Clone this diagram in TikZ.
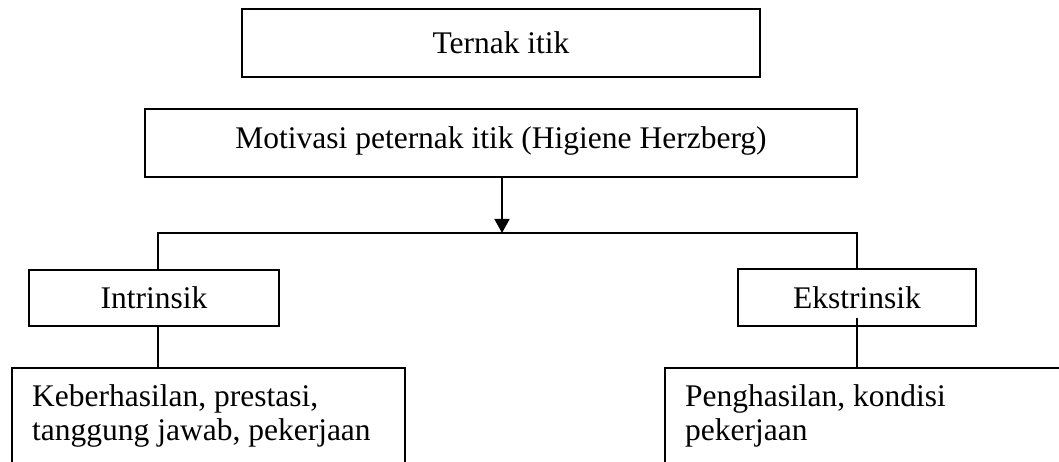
\documentclass[tikz,border=0pt]{standalone}
\usepackage{fontspec}
\setmainfont{Liberation Serif}
\usetikzlibrary{arrows.meta}
\begin{document}
\begin{tikzpicture}[x=1pt,y=-1pt,
  every node/.style={font=\fontsize{31.5}{34}\selectfont},
  box/.style={draw, line width=1.6pt, inner sep=0pt, text height=21.5pt, text depth=0pt},
  openbox/.style={draw, line width=1.6pt, inner sep=0pt, anchor=north west, minimum height=200pt},
  bodytext/.style={anchor=north west, inner sep=0pt, align=left},
  conn/.style={line width=1.6pt},
  arr/.style={line width=1.6pt, -{Triangle[length=14pt,width=15pt]}}]
\useasboundingbox (0,0) rectangle (1059,462);
\clip (0,0) rectangle (1059,462);
\node[box, minimum width=518pt, minimum height=68pt] (top) at (501,43) {Ternak itik};
\node[box, minimum width=712pt, minimum height=68pt, text depth=11pt] (mot) at (501,143) {Motivasi peternak itik (Higiene Herzberg)};
\node[box, minimum width=250pt, minimum height=56pt] (intr) at (154,298) {Intrinsik};
\node[box, minimum width=238pt, minimum height=57pt] (ekst) at (857,297.5) {Ekstrinsik};
\node[openbox, minimum width=393pt] (kbbox) at (11,367) {};
\node[openbox, minimum width=500pt] (phbox) at (664,367) {};
\node[bodytext] (kbtext) at ([xshift=21pt,yshift=-17pt]kbbox.north west) {Keberhasilan, prestasi,\\tanggung jawab, pekerjaan};
\node[bodytext] (phtext) at ([xshift=21pt,yshift=-17pt]phbox.north west) {Penghasilan, kondisi\\pekerjaan};
\coordinate (jn) at (502,233);
\draw[arr] ([xshift=1pt]mot.south) -- (jn);
\draw[conn] ([xshift=4pt]intr.north) |- (ekst.north |- jn) -- (ekst.north);
\draw[conn] ([xshift=4pt]intr.south) -- ([xshift=4pt]intr.south |- kbbox.north);
\draw[conn] ([yshift=9pt]ekst.south) -- (ekst.south |- phbox.north);
\end{tikzpicture}
\end{document}
